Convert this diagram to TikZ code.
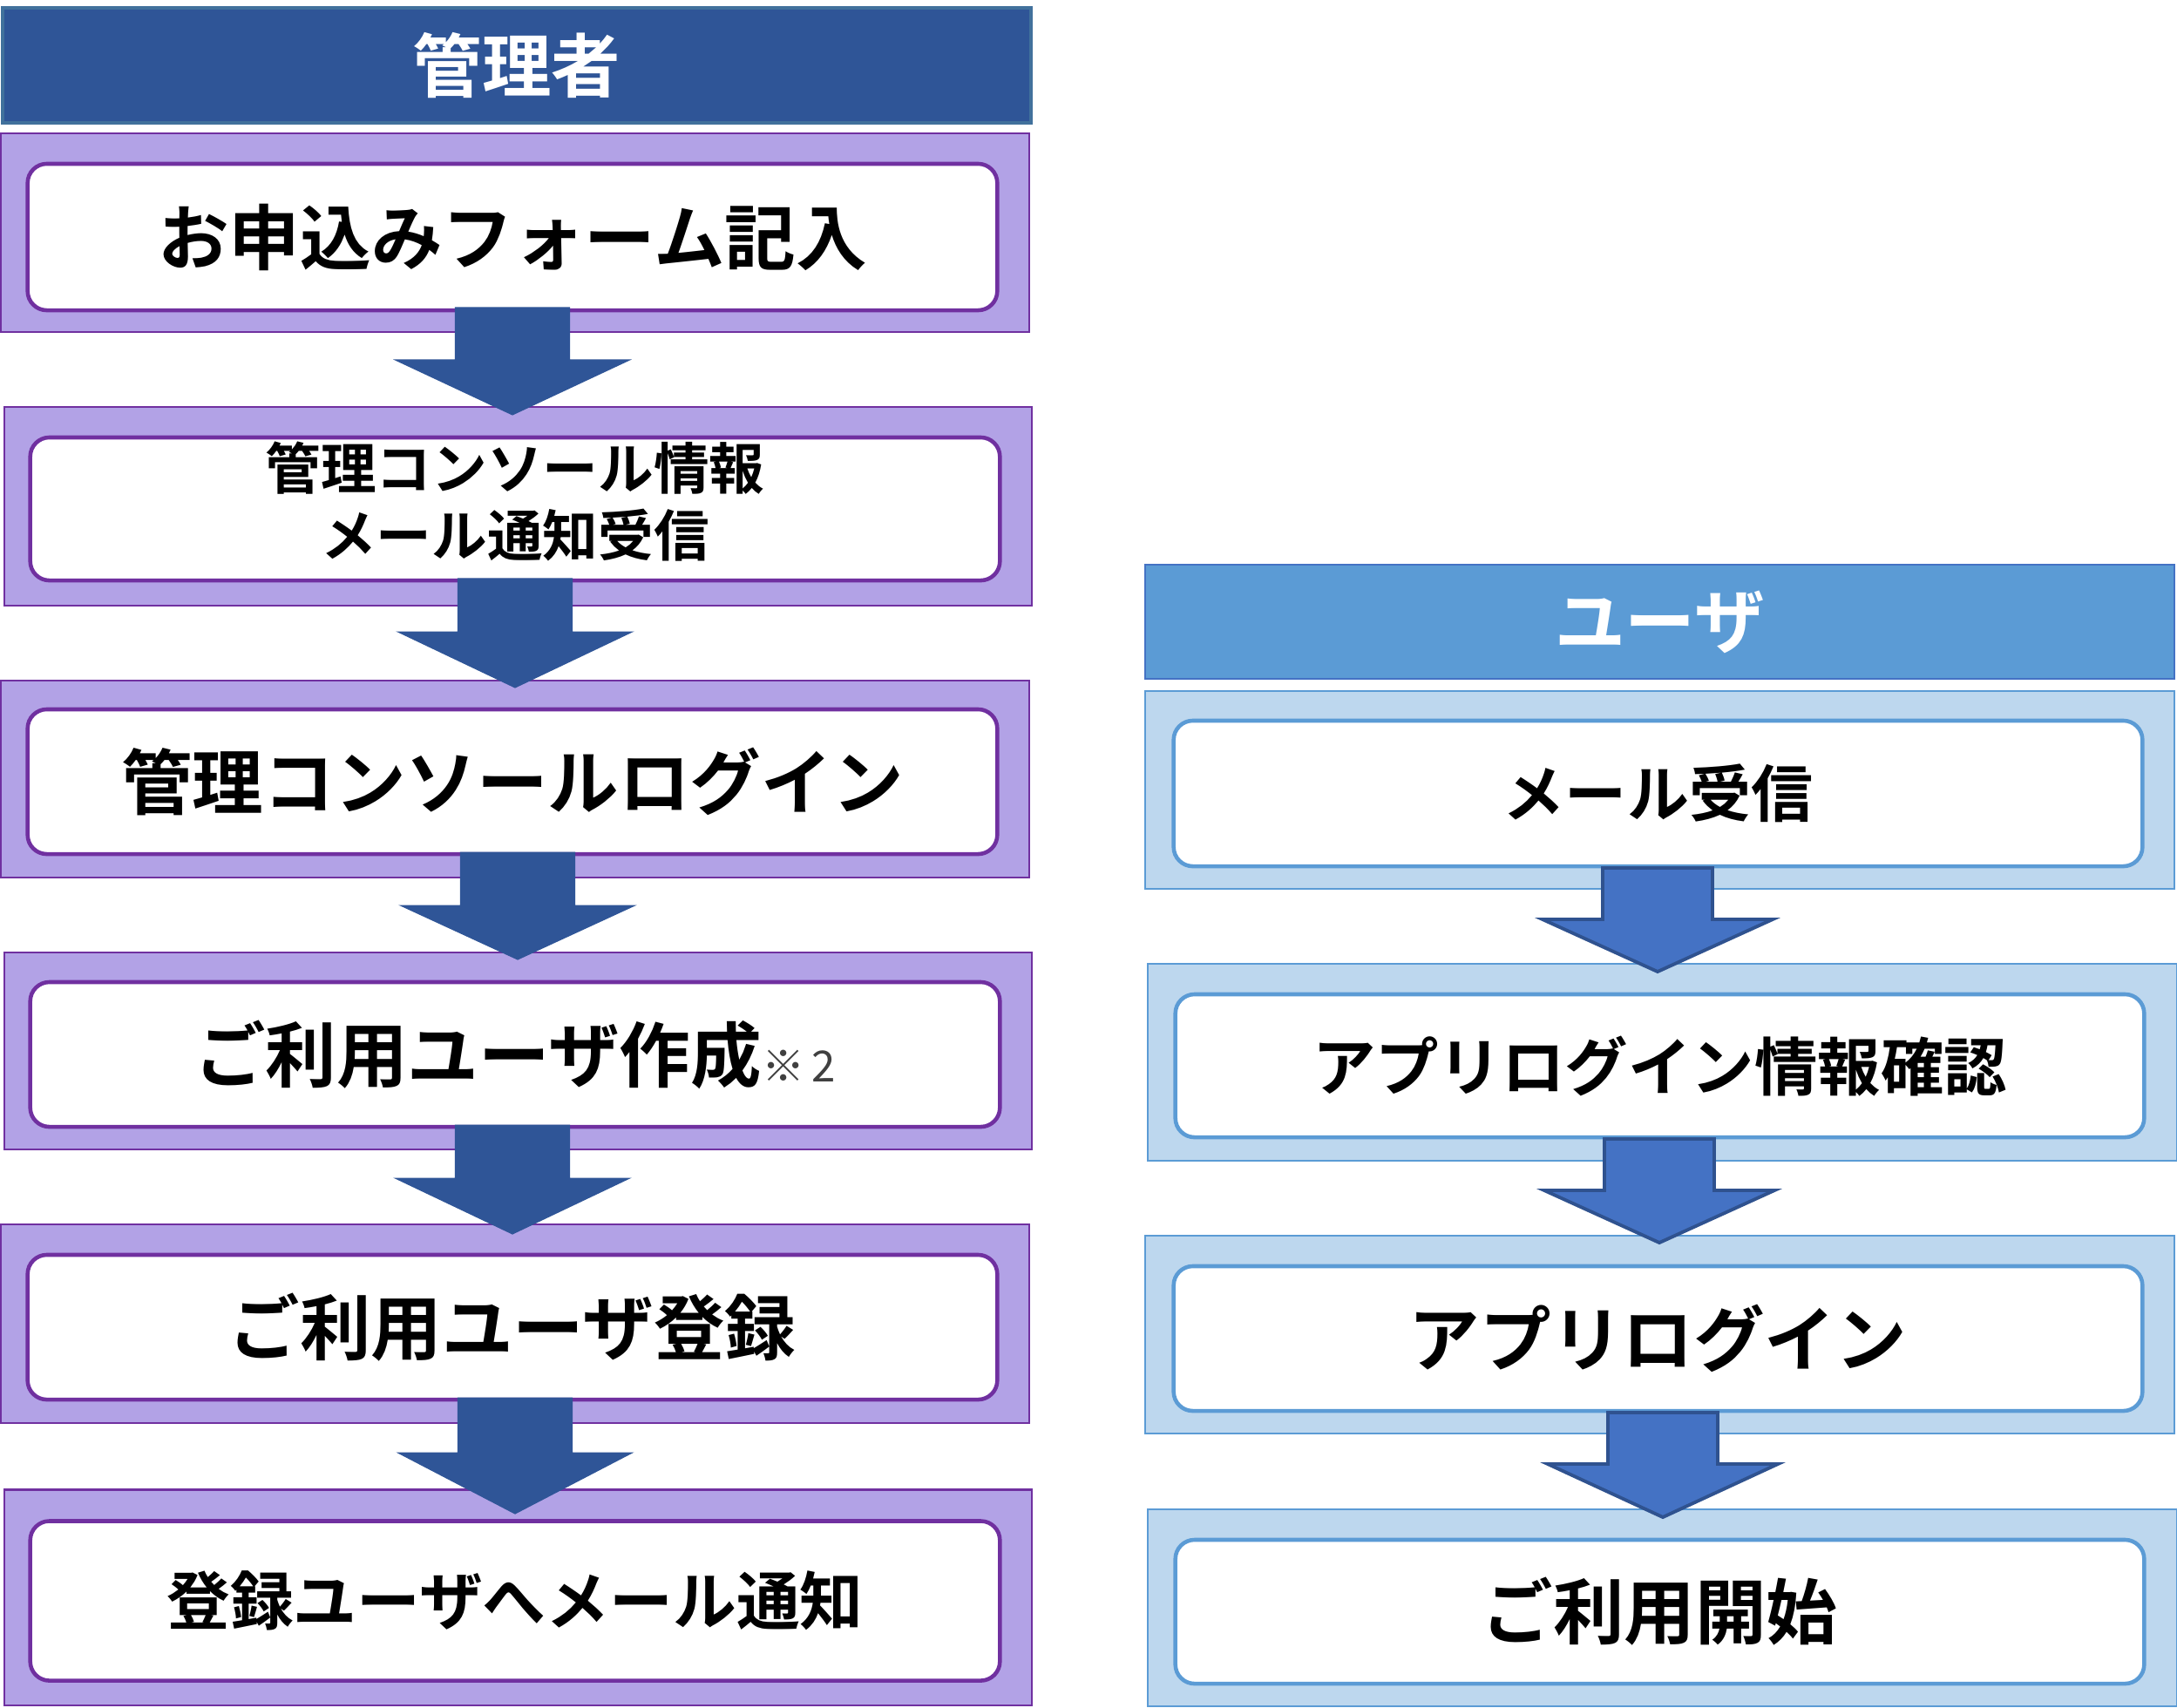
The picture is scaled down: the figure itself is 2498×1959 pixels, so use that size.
\documentclass[tikz,border=0pt]{standalone}
\usepackage{fontspec}
\setmainfont{Noto Sans CJK JP}[BoldFont={* Bold}]
\definecolor{hdrL}{HTML}{2F5597}
\definecolor{hdrLb}{HTML}{41719C}
\definecolor{purpfill}{HTML}{B2A2E6}
\definecolor{purpline}{HTML}{7030A0}
\definecolor{hdrR}{HTML}{5B9BD5}
\definecolor{hdrRb}{HTML}{4472C4}
\definecolor{ltblue}{HTML}{BDD7EE}
\definecolor{arrR}{HTML}{4472C4}
\definecolor{arrRb}{HTML}{2F528F}
\definecolor{notegray}{HTML}{404040}
\newcommand\up[1]{\raisebox{0.06cm}{#1}}
\tikzset{
  box/.style={rectangle, inner sep=0pt, outer sep=0pt, align=center},
  hdrLbox/.style={box, fill=hdrL, draw=hdrLb, line width=1.1pt, text=white, font=\bfseries\fontsize{22.6}{26}\selectfont},
  hdrRbox/.style={box, fill=hdrR, draw=hdrRb, line width=0.6pt, text=white, font=\bfseries\fontsize{23}{26}\selectfont},
  outerL/.style={box, fill=purpfill, draw=purpline, line width=0.6pt},
  outerR/.style={box, fill=ltblue, draw=hdrR, line width=0.6pt},
  innerL/.style={box, fill=white, draw=purpline, line width=1.3pt, rounded corners=0.22cm, font=\bfseries\fontsize{23.2}{27}\selectfont},
  innerR/.style={box, fill=white, draw=hdrR, line width=1.3pt, rounded corners=0.22cm, font=\bfseries\fontsize{23.2}{27}\selectfont},
  arrowL/.style={fill=hdrL, draw=hdrL, line width=0.3pt},
  arrowR/.style={fill=arrR, draw=arrRb, line width=1.1pt, line join=miter},
}
% #1 style, #2 centre x, #3 shaft top y, #4 head top y, #5 tip y, #6 half shaft, #7 half head
\newcommand\blockarrow[7]{%
  \draw[#1] ({#2-#6},#3) -- ({#2+#6},#3) -- ({#2+#6},#4) -- ({#2+#7},#4)
    -- (#2,#5) -- ({#2-#7},#4) -- ({#2-#6},#4) -- cycle;}
\begin{document}
\begin{tikzpicture}[x=0.01cm, y=-0.01cm]
\useasboundingbox (0,0) rectangle (2498,1959);

% ---------- left column ----------
\node[hdrLbox, minimum width=11.80cm, minimum height=1.32cm] (hL) at (593,75) {\up{管理者}};

\node[outerL, minimum width=11.80cm, minimum height=2.28cm] (oL1) at (591,267) {};
\node[outerL, minimum width=11.79cm, minimum height=2.28cm] (oL2) at (594.5,581) {};
\node[outerL, minimum width=11.80cm, minimum height=2.26cm] (oL3) at (591,894) {};
\node[outerL, minimum width=11.79cm, minimum height=2.26cm] (oL4) at (594.5,1206) {};
\node[outerL, minimum width=11.80cm, minimum height=2.28cm] (oL5) at (591,1519) {};
\node[outerL, minimum width=11.79cm, minimum height=2.47cm] (oL6) at (594.5,1833) {};

\node[innerL, minimum width=11.12cm, minimum height=1.68cm] (iL1) at (588,272) {\up{お申込みフォーム記入}};
\node[innerL, minimum width=11.12cm, minimum height=1.64cm, font=\bfseries\fontsize{18.1}{21.6}\selectfont] (iL2) at (591,584) {\up{\begin{tabular}{@{}c@{}}管理コンソール情報\\メール通知受信\end{tabular}}};
\node[innerL, minimum width=11.12cm, minimum height=1.66cm] (iL3) at (588,897) {\up{管理コンソールログイン}};
\node[innerL, minimum width=11.12cm, minimum height=1.66cm] (iL4) at (591,1210) {\up{ご利用ユーザ作成{\mdseries\fontsize{14}{16}\selectfont\color{notegray}※\,2}}};
\node[innerL, minimum width=11.12cm, minimum height=1.66cm] (iL5) at (588,1523) {\up{ご利用ユーザ登録}};
\node[innerL, minimum width=11.12cm, minimum height=1.83cm, font=\bfseries\fontsize{20.7}{24}\selectfont] (iL6) at (591,1837) {\up{登録ユーザへメール通知}};

\blockarrow{arrowL}{588}{353}{413}{476}{65.5}{134.5}
\blockarrow{arrowL}{591}{664}{725}{789}{65.5}{134.5}
\blockarrow{arrowL}{594}{978}{1039}{1101}{65.5}{134.5}
\blockarrow{arrowL}{588}{1291}{1352}{1416}{65.5}{134.5}
\blockarrow{arrowL}{591}{1604}{1667}{1737}{65.5}{134.5}

% ---------- right column ----------
\node[hdrRbox, minimum width=11.81cm, minimum height=1.31cm] (hR) at (1904.5,713.5) {\up{ユーザ}};

\node[outerR, minimum width=11.81cm, minimum height=2.27cm] (oR1) at (1904.5,906.5) {};
\node[outerR, minimum width=11.81cm, minimum height=2.26cm] (oR2) at (1907.5,1219) {};
\node[outerR, minimum width=11.81cm, minimum height=2.27cm] (oR3) at (1904.5,1531.5) {};
\node[outerR, minimum width=11.81cm, minimum height=2.26cm] (oR4) at (1907.5,1845) {};

\node[innerR, minimum width=11.11cm, minimum height=1.67cm, font=\bfseries\fontsize{20.2}{24}\selectfont] (iR1) at (1902.5,910.5) {\up{メール受信}};
\node[innerR, minimum width=11.11cm, minimum height=1.64cm, font=\bfseries\fontsize{20.6}{24}\selectfont] (iR2) at (1904.5,1223) {\up{アプリログイン情報確認}};
\node[innerR, minimum width=11.11cm, minimum height=1.66cm] (iR3) at (1902.5,1536) {\up{アプリログイン}};
\node[innerR, minimum width=11.11cm, minimum height=1.65cm] (iR4) at (1904.5,1849.5) {\up{ご利用開始}};

\blockarrow{arrowR}{1902}{996}{1055}{1115}{63}{132}
\blockarrow{arrowR}{1904}{1307}{1366}{1426}{63}{132}
\blockarrow{arrowR}{1908}{1621}{1680}{1741}{63}{132}
\end{tikzpicture}
\end{document}
